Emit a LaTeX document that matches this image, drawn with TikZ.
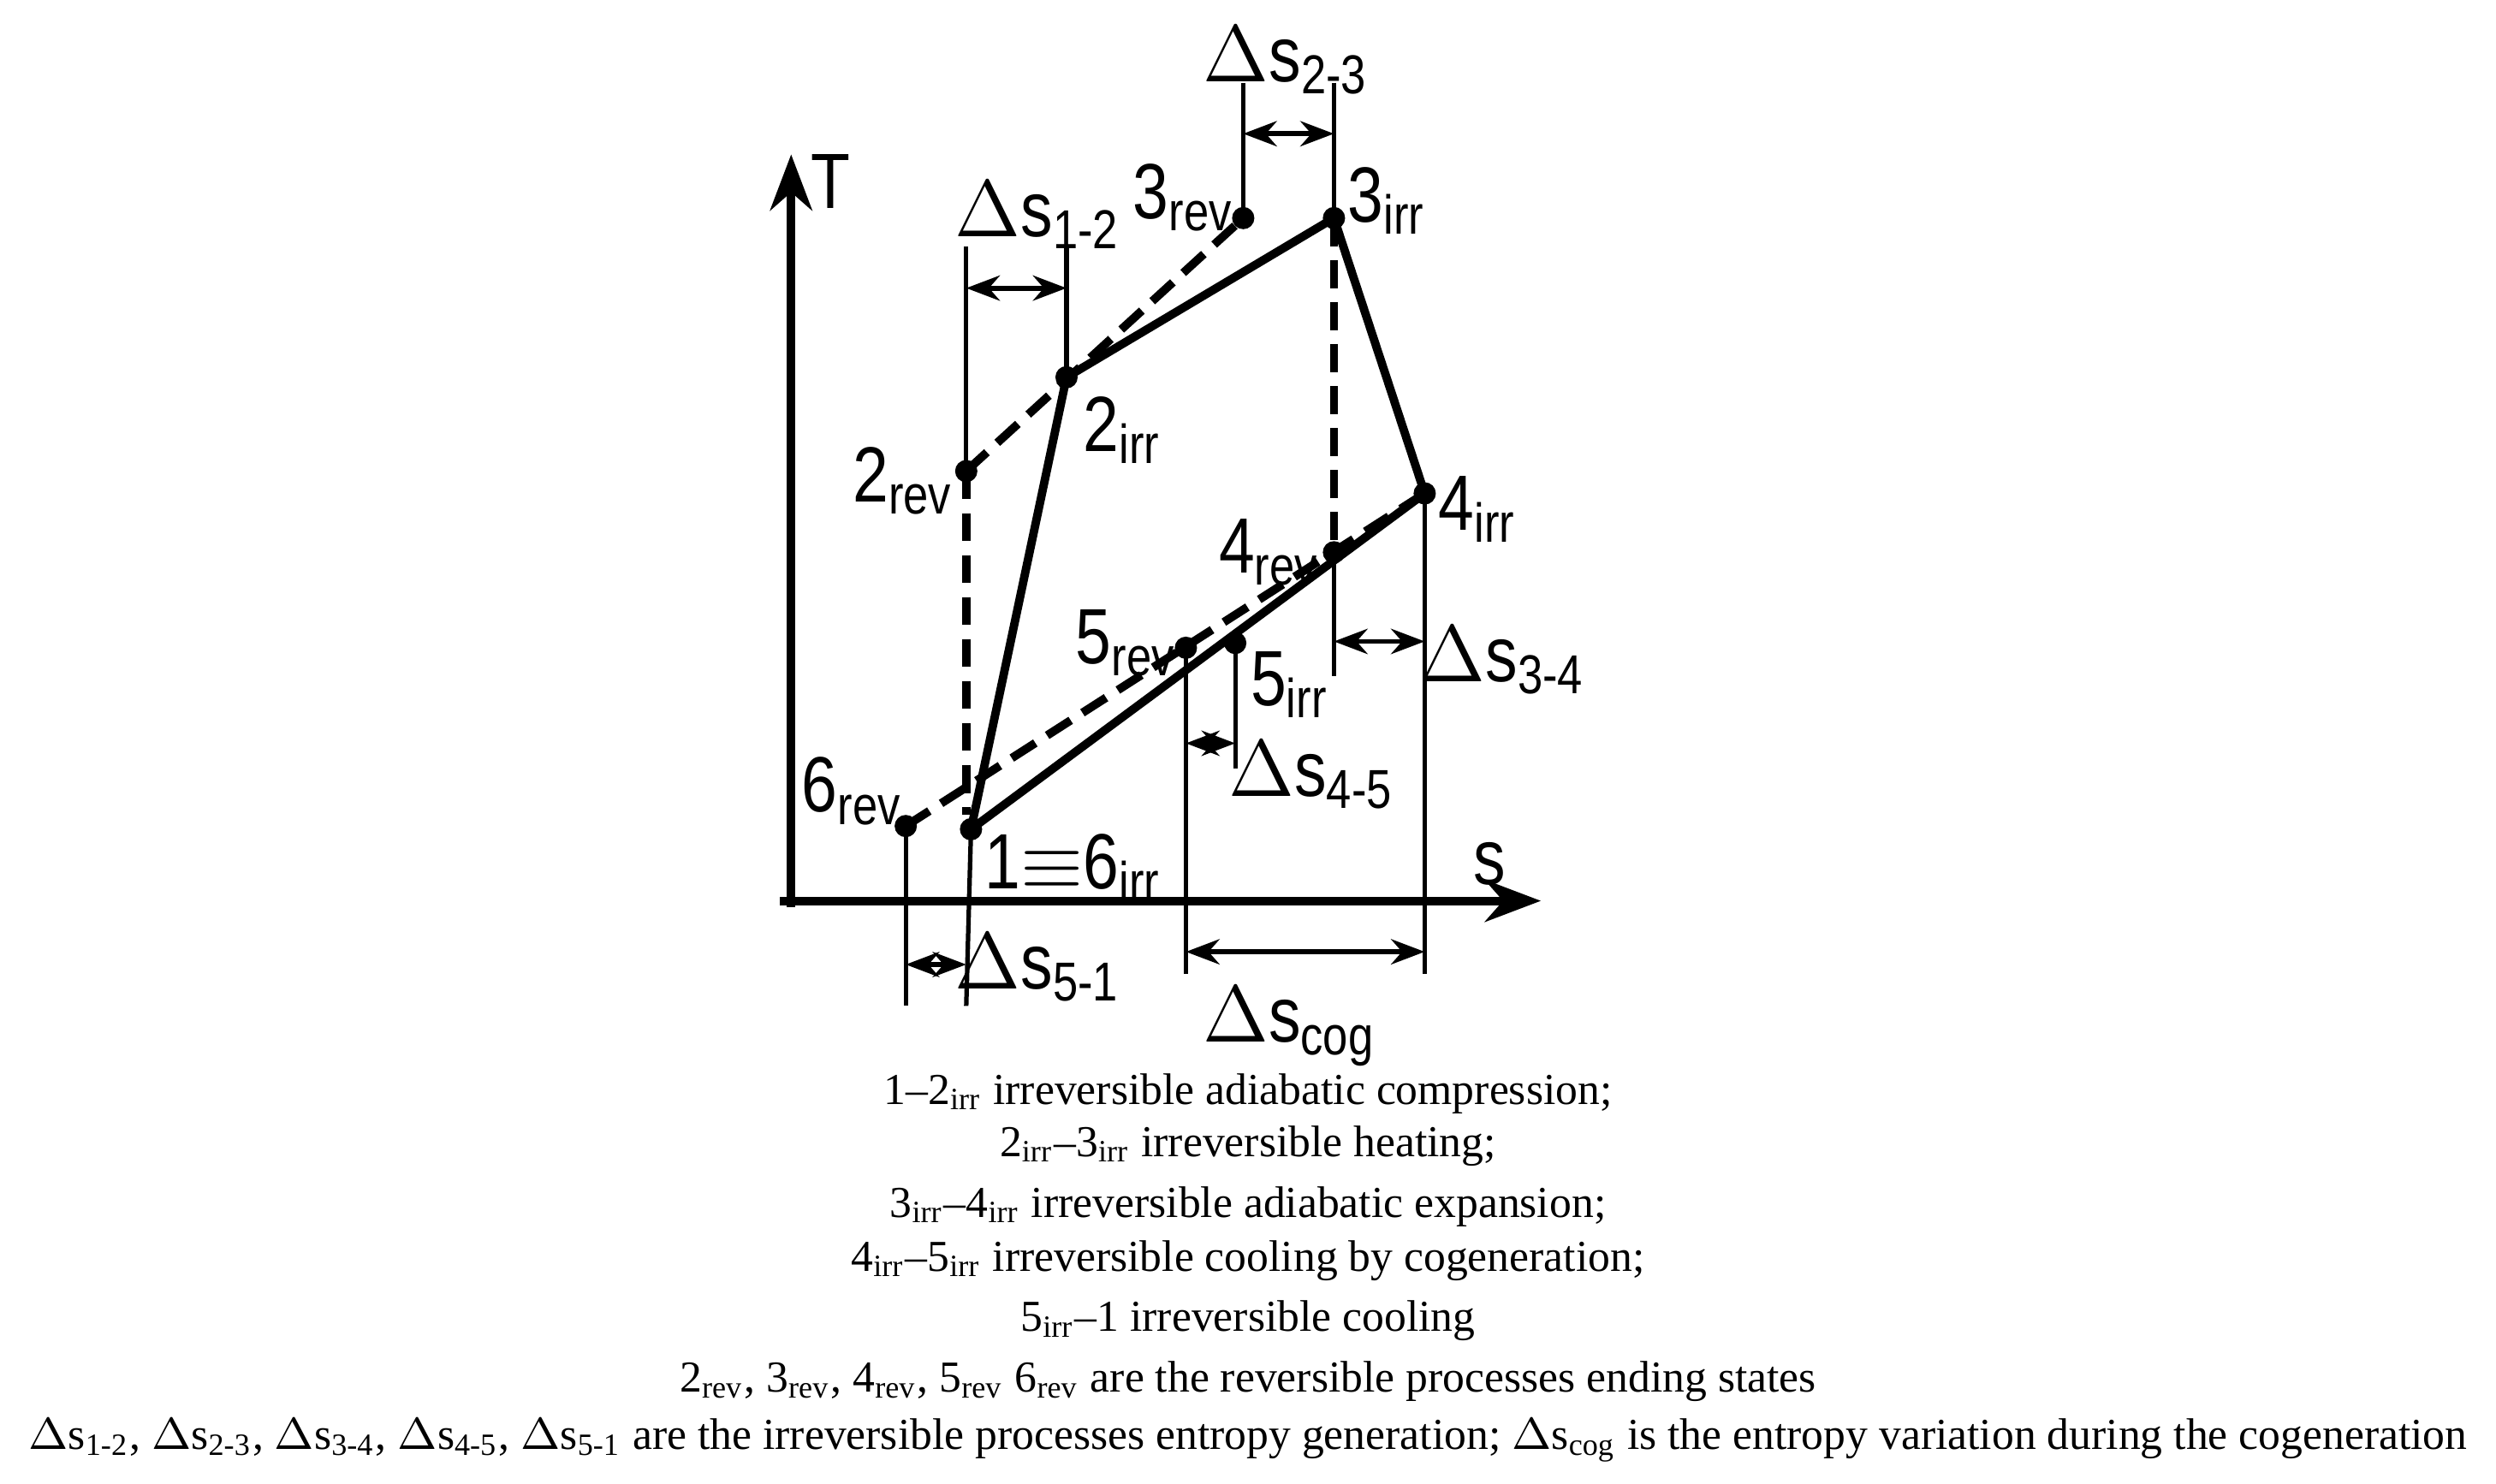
\documentclass[tikz,border=0pt]{standalone}
\usepackage{fontspec}
\newfontfamily\lab[FakeStretch=0.82]{Liberation Sans}
\setmainfont{Liberation Serif}
\usetikzlibrary{arrows.meta}
\begin{document}
\begin{tikzpicture}[x=0.01cm,y=-0.01cm,
  pt/.style={circle,fill=black,inner sep=0pt,minimum size=0.14cm},
  main/.style={line width=1.5pt},
  dsh/.style={line width=1.5pt,dash pattern=on 5pt off 2.5pt},
  thin/.style={line width=0.8pt},
  dim/.style={line width=0.9pt,{Stealth[length=6pt]}-{Stealth[length=6pt]}},
  lb/.style={font=\lab\fontsize{14}{16}\selectfont,inner sep=0pt},
  tx/.style={font=\fontsize{7.9}{9}\selectfont,inner sep=0pt}]
\useasboundingbox (0,0) rectangle (1568,932);
% points
\node[pt] (3r) at (781,137) {};
\node[pt] (3i) at (838,137) {};
\node[pt] (2i) at (670,237) {};
\node[pt] (2r) at (607,296) {};
\node[pt] (4i) at (895,310) {};
\node[pt] (4r) at (838,347) {};
\node[pt] (5r) at (745,407) {};
\node[pt] (5i) at (776,404) {};
\node[pt] (6r) at (569,519) {};
\node[pt] (1) at (610,521) {};
% axes
\coordinate (tt) at (497,97);
\coordinate (ss) at (968,566);
\coordinate (ol) at (490,566);
\coordinate (ob) at (497,570);
\draw[main,-{Stealth[length=10pt]}] (ob) -- (tt);
\draw[main,-{Stealth[length=10pt]}] (ol) -- (ss);
\node[lb] at (522,114) {T};
\node[lb] at (936,543) {s};
% cycle
\draw[main] (1.center) -- (2i.center) -- (3i.center) -- (4i.center) -- (1.center);
\draw[dsh] (2r.center) -- (3r.center);
\draw[dsh] (2r.center) -- (607,512);
\draw[dsh] (3i.center) -- (4r.center);
\draw[dsh] (6r.center) -- (4i.center);
% labels
\node[lb,anchor=east] at (776,124) {3\textsubscript{rev}};
\node[lb,anchor=west] at (846,126) {3\textsubscript{irr}};
\node[lb,anchor=west] at (680,270) {2\textsubscript{irr}};
\node[lb,anchor=east] at (600,302) {2\textsubscript{rev}};
\node[lb,anchor=west] at (903,320) {4\textsubscript{irr}};
\node[lb,anchor=east] at (830,347) {4\textsubscript{rev}};
\node[lb,anchor=east] at (740,404) {5\textsubscript{rev}};
\node[lb,anchor=west] at (785,430) {5\textsubscript{irr}};
\node[lb,anchor=east] at (568,497) {6\textsubscript{rev}};
\node[lb,anchor=west] at (618,545) {1$\equiv$6\textsubscript{irr}};
% dims
\draw[thin] (607,155) -- (2r.center);
\draw[thin] (670,155) -- (2i.center);
\draw[dim] (607,181) -- (670,181);
\node[lb] at (652,135) {$\Delta$s\textsubscript{1-2}};
\draw[thin] (781,52) -- (3r.center);
\draw[thin] (838,52) -- (3i.center);
\draw[dim] (781,84) -- (838,84);
\node[lb] at (808,38) {$\Delta$s\textsubscript{2-3}};
\draw[thin] (4r.center) -- (838,425);
\draw[thin] (4i.center) -- (895,612);
\draw[dim] (838,403) -- (895,403);
\node[lb] at (944,415) {$\Delta$s\textsubscript{3-4}};
\draw[thin] (5r.center) -- (745,612);
\draw[thin] (5i.center) -- (776,483);
\draw[dim] (745,467) -- (776,467);
\node[lb] at (824,487) {$\Delta$s\textsubscript{4-5}};
\draw[thin] (6r.center) -- (569,632);
\draw[thin] (1.center) -- (607,632);
\draw[dim] (569,606) -- (607,606);
\node[lb] at (652,608) {$\Delta$s\textsubscript{5-1}};
\draw[dim] (745,598) -- (895,598);
\node[lb] at (810,645) {$\Delta$s\textsubscript{cog}};
% caption
\node[tx] at (784,687) {1--2\textsubscript{irr} irreversible adiabatic compression;};
\node[tx] at (784,720) {2\textsubscript{irr}--3\textsubscript{irr} irreversible heating;};
\node[tx] at (784,758) {3\textsubscript{irr}--4\textsubscript{irr} irreversible adiabatic expansion;};
\node[tx] at (784,792) {4\textsubscript{irr}--5\textsubscript{irr} irreversible cooling by cogeneration;};
\node[tx] at (784,830) {5\textsubscript{irr}--1 irreversible cooling};
\node[tx] at (784,868) {2\textsubscript{rev}, 3\textsubscript{rev}, 4\textsubscript{rev}, 5\textsubscript{rev} 6\textsubscript{rev} are the reversible processes ending states};
\node[tx] at (784,905) {$\Delta$s\textsubscript{1-2}, $\Delta$s\textsubscript{2-3}, $\Delta$s\textsubscript{3-4}, $\Delta$s\textsubscript{4-5}, $\Delta$s\textsubscript{5-1} are the irreversible processes entropy generation; $\Delta$s\textsubscript{cog} is the entropy variation during the cogeneration};
\end{tikzpicture}
\end{document}
